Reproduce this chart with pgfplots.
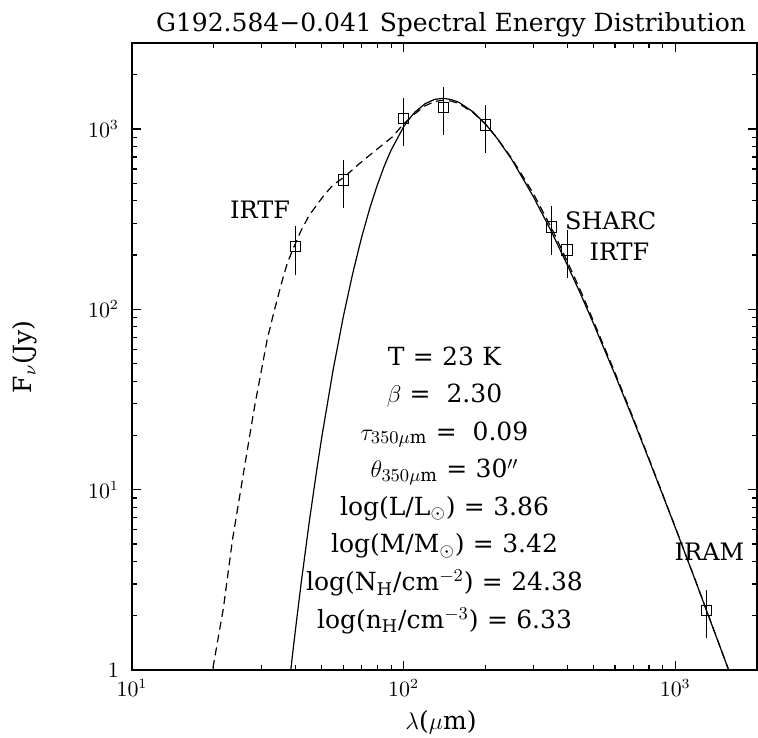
\documentclass[border=0pt]{standalone}
\usepackage{pgfplots}
\pgfplotsset{compat=1.18}
\usepackage{fontspec}
\setmainfont{DejaVu Serif}
\newcommand{\txt}{\fontsize{12.5}{15}\selectfont}
\newcommand{\lab}{\fontsize{12}{14}\selectfont}
\begin{document}
\begin{tikzpicture}
\path[use as bounding box] (-66pt,-33.5pt) rectangle (313pt,335pt);
\begin{axis}[
  at={(0,0)}, anchor=south west,
  width=312.5pt, height=313.5pt, scale only axis,
  xmode=log, ymode=log,
  xmin=10, xmax=2000, ymin=1, ymax=3000,
  tick align=inside,
  major tick length=4.5pt, minor tick length=2.5pt,
  axis line style={line width=0.8pt},
  every tick/.style={line width=0.6pt, black},
  xtick={10,100,1000},
  xticklabels={$10^{1}$,$10^{2}$,$10^{3}$},
  minor xtick={20,30,40,50,60,70,80,90,200,300,400,500,600,700,800,900},
  ytick={1,10,100,1000},
  yticklabels={$1$,$10^{1}$,$10^{2}$,$10^{3}$},
  minor ytick={2,3,4,5,6,7,8,9,20,30,40,50,60,70,80,90,200,300,400,500,600,700,800,900,2000},
  tick label style={font=\fontsize{10.5}{12}\selectfont},
  yticklabel style={xshift=-3pt},
  xticklabel style={yshift=-1pt},
]
% single-temperature greybody (solid)
\addplot[black, line width=0.6pt] coordinates {
(37,0.60) (38,0.864) (39,1.22) (40,1.687) (42,3.07) (45,6.74) (48,13.2) (50,19.7)
(55,46.1) (60,91.4) (65,159) (70,250) (75,362) (80,489) (85,627) (90,766)
(100,1029) (105,1142) (110,1240) (120,1382) (130,1460) (140,1480) (150,1456)
(160,1404) (180,1246) (200,1067) (220,895) (250,678) (300,423) (350,270)
(400,177) (450,120) (500,83.4) (600,43.4) (700,24.5) (800,14.7) (1000,6.17)
(1200,2.99) (1300,2.16) (1550,1.06) (1600,0.93)
};
% two-component fit (dashed)
\addplot[black, line width=0.6pt, dash pattern=on 4pt off 2.5pt] coordinates {
(19.5,0.87) (19.8,1.0) (21.7,2.2) (23.44,5.28) (25.74,12.4) (28.29,29.1)
(31.48,68.4) (33.5,100) (35.6,141.5) (37.3,180) (39.2,217) (42,275) (44.9,332)
(50.9,429) (55,490) (60.3,540) (68.5,640) (78.9,762) (90.8,903) (100.2,1072)
(110,1215) (120,1345) (130,1420) (140,1445) (150,1428) (160,1382) (180,1235)
(200,1065) (220,897) (250,688) (300,440) (350,283) (400,185) (450,125)
(500,86) (600,44.5) (700,25) (800,14.9) (1000,6.2) (1200,3.0) (1300,2.17)
(1550,1.06) (1600,0.93)
};
% data points
\addplot[black, only marks, mark=square, mark size=2.6pt,
  mark options={line width=0.5pt, fill=none},
  error bars/.cd, y dir=both, y explicit, error mark=none,
  error bar style={line width=0.6pt}] coordinates {
(40,223) +- (0,67)
(60,521) +- (0,156)
(100,1143) +- (0,343)
(140,1319) +- (0,396)
(200,1050) +- (0,315)
(350,286) +- (0,86)
(400,213) +- (0,64)
(1300,2.14) +- (0,0.64)
};
\node[font=\lab, anchor=east, inner sep=0pt] at (axis cs:38.3,357) {IRTF};
\node[font=\lab, anchor=west, inner sep=0pt] at (axis cs:392,311) {SHARC};
\node[font=\lab, anchor=west, inner sep=0pt] at (axis cs:482,208) {IRTF};
\node[font=\lab, anchor=east, inner sep=0pt] at (axis cs:1800,4.54) {IRAM};
\node[font=\txt, anchor=base] at (rel axis cs:0.5,0.4864) {T\,\,=\,\,23\,\,K};
\node[font=\txt, anchor=base] at (rel axis cs:0.5,0.4265) {$\beta$\,\,=\ \ 2.30};
\node[font=\txt, anchor=base] at (rel axis cs:0.5,0.3665) {$\tau_{350\mu\mathrm{m}}$\,\,=\ \ 0.09};
\node[font=\txt, anchor=base] at (rel axis cs:0.5,0.3065) {$\theta_{350\mu\mathrm{m}}$\,\,=\,\,30$''$};
\node[font=\txt, anchor=base] at (rel axis cs:0.5,0.2466) {log(L/L$_{\odot}$)\,\,=\,\,3.86};
\node[font=\txt, anchor=base] at (rel axis cs:0.5,0.1866) {log(M/M$_{\odot}$)\,\,=\,\,3.42};
\node[font=\txt, anchor=base] at (rel axis cs:0.5,0.1266) {log(N$_{\mathrm{H}}$/cm$^{-2}$)\,\,=\,\,24.38};
\node[font=\txt, anchor=base] at (rel axis cs:0.5,0.0667) {log(n$_{\mathrm{H}}$/cm$^{-3}$)\,\,=\,\,6.33};
\end{axis}
\node[font=\txt, anchor=base] at (159.5pt,319pt) {G192.584−0.041 Spectral Energy Distribution};
\node[font=\txt, anchor=base] at (154.5pt,-29.5pt) {$\lambda$($\mu$m)};
\node[font=\txt, anchor=base, rotate=90] at (-50pt,156.5pt) {F$_{\nu}$(Jy)};
\end{tikzpicture}
\end{document}
